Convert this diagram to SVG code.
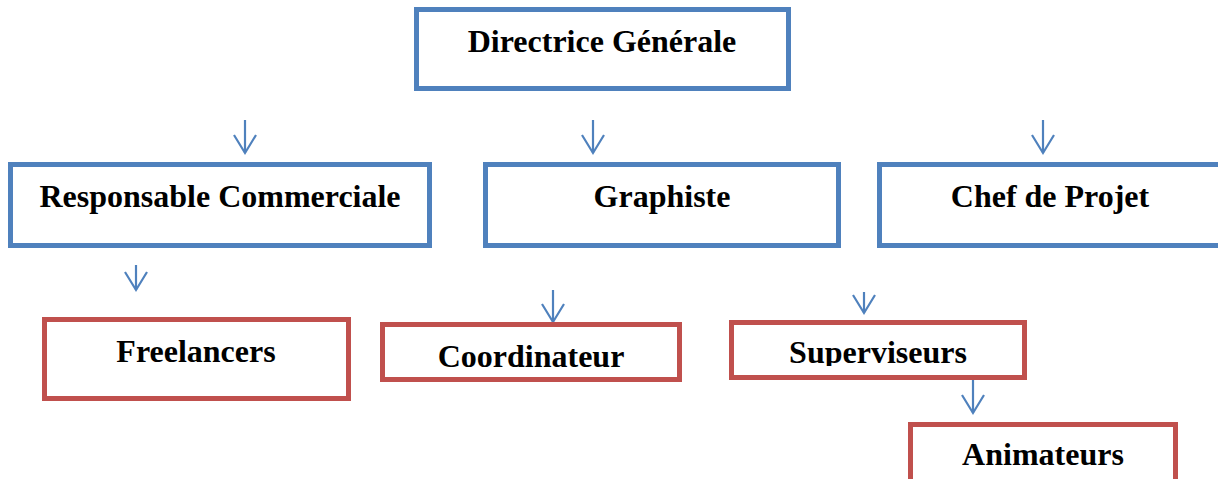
<svg xmlns="http://www.w3.org/2000/svg" width="1218" height="479" viewBox="0 0 1218 479">
<defs>
<style>
.b{fill:#fff;stroke:#4F81BD;stroke-width:5}
.r{fill:#fff;stroke:#C0504D;stroke-width:5}
.t{font-family:"Liberation Serif","Times New Roman",serif;font-weight:bold;font-size:32px;fill:#000;text-anchor:middle}
.c{stroke:#4F81BD;stroke-width:2.2;fill:none;marker-end:url(#ah)}
</style>
<marker id="ah" markerUnits="userSpaceOnUse" orient="auto" markerWidth="30" markerHeight="30" overflow="visible">
<path d="M-18,-11 L0,0 L-18,11" fill="none" stroke="#4F81BD" stroke-width="2.2"/>
</marker>
<clipPath id="clipSup"><rect x="729" y="320" width="300" height="46"/></clipPath>
</defs>
<g id="connectors">
<line class="c" x1="245" y1="120" x2="245" y2="153"/>
<line class="c" x1="593" y1="120" x2="593" y2="153"/>
<line class="c" x1="1043" y1="120" x2="1043" y2="153"/>
<line class="c" x1="136" y1="265" x2="136" y2="290"/>
<line class="c" x1="553" y1="290" x2="553" y2="322"/>
<line class="c" x1="864" y1="292" x2="864" y2="313"/>
<line class="c" x1="973" y1="380" x2="973" y2="413"/>
</g>
<g id="directrice">
<rect class="b" x="416.5" y="9.5" width="372" height="79"/>
<text class="t" x="602" y="52">Directrice Générale</text>
</g>
<g id="responsable">
<rect class="b" x="10.5" y="164.5" width="419" height="81"/>
<text class="t" x="220" y="207">Responsable Commerciale</text>
</g>
<g id="graphiste">
<rect class="b" x="485.5" y="164.5" width="353" height="81"/>
<text class="t" x="662" y="207">Graphiste</text>
</g>
<g id="chef">
<rect class="b" x="879.5" y="164.5" width="350" height="81"/>
<text class="t" x="1050" y="207">Chef de Projet</text>
</g>
<g id="freelancers">
<rect class="r" x="44.5" y="319.5" width="304" height="79"/>
<text class="t" x="196" y="362">Freelancers</text>
</g>
<g id="coordinateur">
<rect class="r" x="382.5" y="324.5" width="297" height="55"/>
<text class="t" x="531" y="367">Coordinateur</text>
</g>
<g id="superviseurs">
<rect class="r" x="731.5" y="322.5" width="293" height="55"/>
<text class="t" x="878" y="363" clip-path="url(#clipSup)">Superviseurs</text>
</g>
<g id="animateurs">
<rect class="r" x="910.5" y="424.5" width="265" height="70"/>
<text class="t" x="1043" y="465">Animateurs</text>
</g>
</svg>
